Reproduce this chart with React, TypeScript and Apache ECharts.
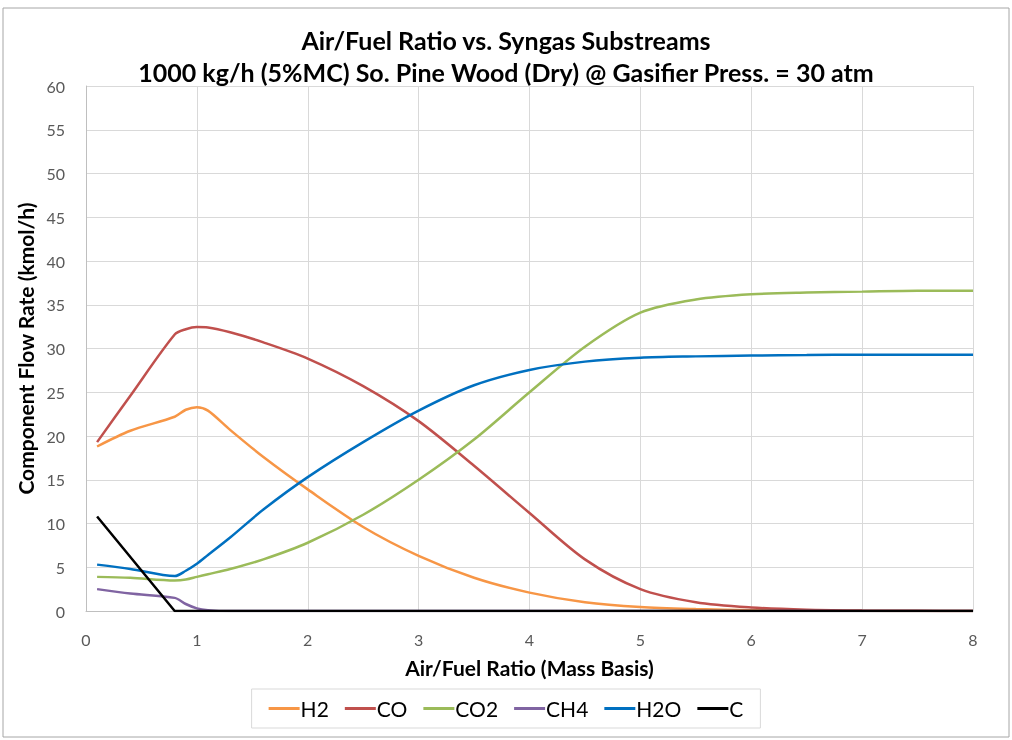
import React, { useEffect, useRef } from "react";
import * as echarts from "echarts";

const xs = [0.1, 0.4, 0.8, 0.9, 1.0, 1.1, 1.3, 1.6, 2, 2.5, 3, 3.5, 4, 4.5, 5, 5.5, 6, 6.5, 7, 7.5, 8];
const h2 = [18.8, 20.6, 22.2, 23.0, 23.3, 22.9, 20.7, 17.6, 13.9, 9.6, 6.3, 3.8, 2.1, 1.0, 0.45, 0.22, 0.1, 0.05, 0.02, 0.01, 0];
const co = [19.3, 24.6, 31.6, 32.2, 32.45, 32.4, 31.85, 30.7, 28.85, 25.7, 21.7, 16.6, 11.2, 5.9, 2.5, 1.0, 0.4, 0.15, 0.06, 0.02, 0];
const co2 = [3.9, 3.8, 3.5, 3.6, 3.9, 4.2, 4.8, 5.9, 7.8, 11.0, 15.0, 19.6, 25.0, 30.2, 34.1, 35.6, 36.2, 36.4, 36.5, 36.6, 36.6];
const ch4 = [2.5, 2.0, 1.5, 0.8, 0.3, 0.1, 0, 0, 0, 0, 0, 0, 0, 0, 0, 0, 0, 0, 0, 0, 0];
const h2o = [5.3, 4.8, 4.0, 4.6, 5.4, 6.4, 8.4, 11.6, 15.3, 19.3, 22.9, 25.8, 27.55, 28.5, 28.95, 29.1, 29.2, 29.25, 29.3, 29.3, 29.3];
const cX = [0.1, 0.8, 8];
const cY = [10.8, 0, 0];

const names = ["H2", "CO", "CO2", "CH4", "H2O", "C"];
const colors = ["#F79646", "#C0504D", "#9BBB59", "#8064A2", "#0070C0", "#000000"];

const pair = (x: number[], y: number[]) => x.map((v, i) => [v, y[i]]);

export default function App() {
  const ref = useRef<HTMLDivElement>(null);
  useEffect(() => {
    if (!ref.current) return;
    const chart = echarts.init(ref.current, undefined, { renderer: "svg" });
    const font = "Lato, 'Open Sans', sans-serif";
    const seriesData = [
      pair(xs, h2),
      pair(xs, co),
      pair(xs, co2),
      pair(xs, ch4),
      pair(xs, h2o),
      pair(cX, cY),
    ];
    chart.setOption({
      animation: false,
      textStyle: { fontFamily: font },
      color: colors,
      title: {
        text: "Air/Fuel Ratio vs. Syngas Substreams\n1000 kg/h (5%MC) So. Pine Wood (Dry) @ Gasifier Press. = 30 atm",
        left: "center",
        top: 19,
        textStyle: { fontFamily: font, fontSize: 25, fontWeight: "bold", color: "#000", lineHeight: 32 },
      },
      grid: { left: 86, right: 39, top: 86, bottom: 129 },
      xAxis: {
        type: "value",
        min: 0,
        max: 8,
        interval: 1,
        name: "Air/Fuel Ratio (Mass Basis)",
        nameLocation: "middle",
        nameGap: 46,
        nameTextStyle: { fontFamily: font, fontSize: 21, fontWeight: "bold", color: "#000" },
        axisLine: { lineStyle: { color: "#BFBFBF" } },
        axisTick: { show: false },
        axisLabel: { fontFamily: font, fontSize: 16, color: "#595959", margin: 20 },
        splitLine: { show: true, lineStyle: { color: "#D9D9D9", width: 1 } },
      },
      yAxis: {
        type: "value",
        min: 0,
        max: 60,
        interval: 5,
        name: "Component Flow Rate (kmol/h)",
        nameLocation: "middle",
        nameGap: 46,
        nameTextStyle: { fontFamily: font, fontSize: 21, fontWeight: "bold", color: "#000" },
        axisLine: { show: true, lineStyle: { color: "#BFBFBF" } },
        axisTick: { show: false },
        axisLabel: { fontFamily: font, fontSize: 16, color: "#595959", margin: 21 },
        splitLine: { show: true, lineStyle: { color: "#D9D9D9", width: 1 } },
      },
      legend: {
        data: names,
        left: "center",
        top: 689,
        orient: "horizontal",
        icon: "rect",
        itemWidth: 31,
        itemHeight: 3,
        itemGap: 16,
        padding: [9, 17],
        borderColor: "#D9D9D9",
        borderWidth: 1,
        textStyle: { fontFamily: font, fontSize: 21, color: "#000", padding: [0, 0, 0, -4] },
      },
      graphic: [
        {
          type: "rect",
          shape: { x: 3, y: 8, width: 1006, height: 729 },
          style: { fill: "none", stroke: "#A6A6A6", lineWidth: 1 },
          silent: true,
        },
      ],
      series: names.map((n, i) => ({
        name: n,
        type: "line",
        data: seriesData[i],
        showSymbol: false,
        symbol: "none",
        smooth: n === "C" ? false : 0.3,
        lineStyle: { color: colors[i], width: 2.5 },
        itemStyle: { color: colors[i] },
        z: 2 + i,
      })),
    });
    return () => chart.dispose();
  }, []);
  return <div ref={ref} style={{ position: "fixed", left: 0, top: 0, width: 1012, height: 740 }} />;
}
